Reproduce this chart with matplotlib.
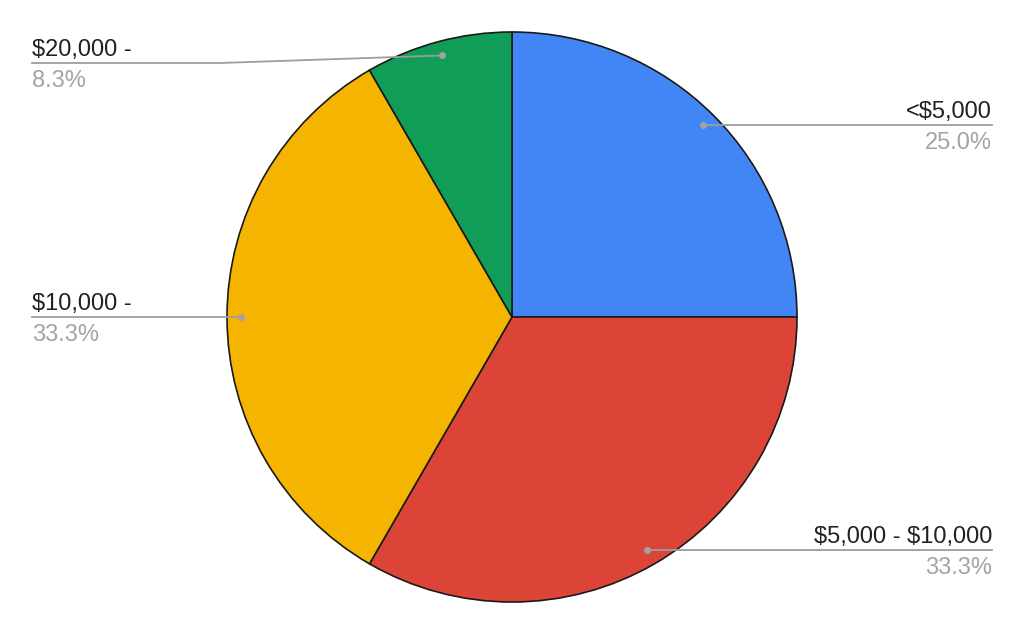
import matplotlib
matplotlib.use("Agg")
import matplotlib.pyplot as plt
import numpy as np

plt.rcParams["text.parse_math"] = False

labels = ["<$5,000", "$5,000 - $10,000", "$10,000 -", "$20,000 -"]
values = [3, 4, 4, 1]
colors = ["#4285F4", "#DB4437", "#F4B400", "#0F9D58"]

W, H = 1024, 633
fig = plt.figure(figsize=(W / 100, H / 100), dpi=100)
ax = fig.add_axes([0, 0, 1, 1])

cx, cy, R = 512, H - 317, 285
wedges, _ = ax.pie(values, colors=colors, startangle=90, counterclock=False,
                   center=(cx, cy), radius=R, frame=True,
                   wedgeprops=dict(edgecolor="#1a1a1a", linewidth=1.2))
ax.set_xlim(0, W)
ax.set_ylim(0, H)
ax.set_aspect("equal")
ax.axis("off")

total = sum(values)
line_y = [125, 550, 317, 63]
side = ["R", "R", "L", "L"]
line_col = "#9a9e9a"
pct_col = "#a0a6a0"
font = "Liberation Sans"
fs = 17
for w, lab, v, ly, s in zip(wedges, labels, values, line_y, side):
    mid = np.deg2rad((w.theta1 + w.theta2) / 2)
    dx, dy = cx + 0.95 * R * np.cos(mid), cy + 0.95 * R * np.sin(mid)
    lyd = H - ly
    if abs(dy - lyd) < 4:
        dy = lyd
    ax.plot([dx], [dy], "o", color="#a0a4a0", ms=4, zorder=5)
    xe = 992 if s == "R" else 32
    ha = "right" if s == "R" else "left"
    if abs(dy - lyd) > 2:
        xb = 220
        ax.plot([dx, xb, xe], [dy, lyd, lyd], color=line_col, lw=1.3, zorder=4)
    else:
        ax.plot([dx, xe], [dy, lyd], color=line_col, lw=1.3, zorder=4)
    ax.text(xe, lyd + 7, lab, ha=ha, va="baseline", fontsize=fs,
            family=font, color="#202124")
    ax.text(xe, lyd - 7, f"{v / total * 100:.1f}%", ha=ha, va="top",
            fontsize=fs, family=font, color=pct_col)

fig.savefig("out.png", dpi=100, facecolor="white")
